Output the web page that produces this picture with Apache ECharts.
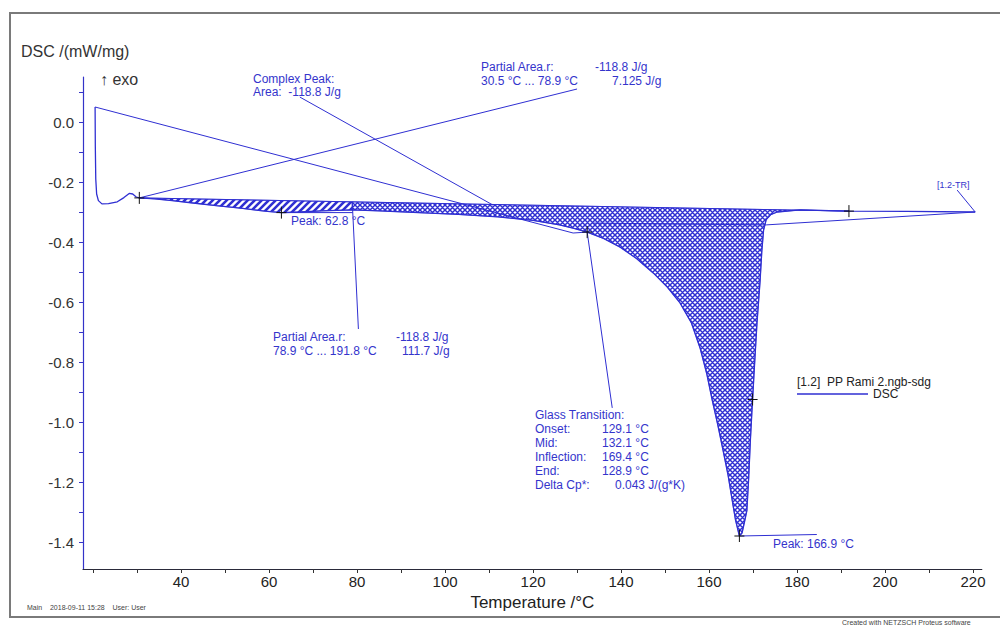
<!DOCTYPE html>
<html><head><meta charset="utf-8">
<script src="https://cdn.jsdelivr.net/npm/echarts@6/dist/echarts.min.js"></script>
<style>html,body{margin:0;padding:0;background:#fff}#c{width:1000px;height:626px}</style>
</head><body><div id="c"></div>
<script>
// ---- data (°C, mW/mg) ----
const curveT = [20.45,20.5,20.6,20.8,21.2,22.0,23.5,25.5,27.0,28.2,29.0,29.8,30.5,34,38,42.7,48,54,59,62.8,67,72,78.9,85,94,103,112,120,126,129.1,132.3,136,139.8,143.5,147.3,150.5,153.4,156,158,159.5,160.7,162,163.2,164.3,165.2,166.0,166.9,167.5,168.1,168.6,169.0,169.4,169.8,170.3,170.9,171.6,172.0,172.4,173.0,174.0,175.5,180.7,191.8,205,220.5];
const curveV = [0.05,-0.08,-0.19,-0.24,-0.262,-0.273,-0.272,-0.266,-0.252,-0.238,-0.240,-0.250,-0.253,-0.256,-0.262,-0.270,-0.279,-0.288,-0.297,-0.302,-0.300,-0.296,-0.293,-0.296,-0.302,-0.308,-0.316,-0.328,-0.343,-0.354,-0.367,-0.388,-0.417,-0.455,-0.503,-0.550,-0.603,-0.670,-0.755,-0.840,-0.925,-1.010,-1.095,-1.175,-1.255,-1.325,-1.380,-1.370,-1.330,-1.295,-1.190,-1.060,-0.950,-0.820,-0.670,-0.530,-0.430,-0.360,-0.325,-0.309,-0.300,-0.293,-0.297,-0.298,-0.300];
const baselineT = [30.5, 191.8];
const baselineV = [-0.253, -0.297];
const startLineT = [20.45, 129.1, 132.3];
const startLineV = [0.05, -0.37, -0.367];
const complexBaseT = [133.6, 173.0, 220.5];
const complexBaseV = [-0.337, -0.343, -0.300];
const splitT = [30.5, 78.9, 191.8];
const markerT = [30.5, 62.8, 132.3, 169.9, 166.9, 191.8];
const markerV = [-0.253, -0.302, -0.367, -0.925, -1.380, -0.297];
// leader lines: [T1, V1, T2, V2]
const leaders = [
  [30.5, -0.253, 130.0, 0.110],
  [67.0, 0.083, 110.9, -0.277],
  [78.9, -0.266, 80.3, -0.690],
  [132.3, -0.367, 138.0, -0.953],
  [62.8, -0.302, 79.0, -0.302],
  [166.9, -1.380, 184.5, -1.375],
  [220.5, -0.300, 216.4, -0.227]
];
const xTickValues = [20,30,40,50,60,70,80,90,100,110,120,130,140,150,160,170,180,190,200,210,220];
const xLabelValues = [40,60,80,100,120,140,160,180,200,220];
const yTickValues = [0.1,0.0,-0.1,-0.2,-0.3,-0.4,-0.5,-0.6,-0.7,-0.8,-0.9,-1.0,-1.1,-1.2,-1.3,-1.4];
const yLabelValues = [0.0,-0.2,-0.4,-0.6,-0.8,-1.0,-1.2,-1.4];

// ---- helpers ----
const BLUE = '#2f2fd2';
const TXT = '#3434cc';
function baseAt(t){ const f=(t-baselineT[0])/(baselineT[1]-baselineT[0]); return baselineV[0]+f*(baselineV[1]-baselineV[0]); }
function pairs(a,b){ return a.map((t,i)=>[t,b[i]]); }
function makePattern(size, both, lw){
  const c=document.createElement('canvas'); c.width=size; c.height=size;
  const g=c.getContext('2d'); g.strokeStyle=BLUE; g.lineWidth=lw;
  g.beginPath();
  g.moveTo(-1,size+1); g.lineTo(size+1,-1);
  g.moveTo(-1,1); g.lineTo(1,-1);
  g.moveTo(size-1,size+1); g.lineTo(size+1,size-1);
  if(both){
    g.moveTo(-1,-1); g.lineTo(size+1,size+1);
    g.moveTo(size-1,-1); g.lineTo(size+1,1);
    g.moveTo(-1,size-1); g.lineTo(1,size+1);
  }
  g.stroke();
  return {image:c, repeat:'repeat'};
}
const diagPat = makePattern(7,false,2.6);
const crossPat = makePattern(5,true,1.45);

function fillSeries(t0,t1,pat){
  return {type:'custom', silent:true, z:1, data:[[t0,baseAt(t0)]], encode:{x:0,y:1},
    renderItem:(p,api)=>{
      const pts=[];
      for(let i=0;i<curveT.length;i++){ if(curveT[i]>=t0-1e-9 && curveT[i]<=t1+1e-9) pts.push(api.coord([curveT[i],curveV[i]])); }
      pts.push(api.coord([t1,baseAt(t1)])); pts.push(api.coord([t0,baseAt(t0)]));
      return {type:'polygon', shape:{points:pts}, style:{fill:pat, stroke:BLUE, lineWidth:0.6}};
    }};
}
function lineSeries(data,w,z){ return {type:'line', data, showSymbol:false, symbol:'none', silent:true, z:z||3, lineStyle:{color:BLUE,width:w}, animation:false}; }

const chart = echarts.init(document.getElementById('c'), null, {renderer:'svg'});
const F = '"Liberation Sans", Arial, sans-serif';
function txt(x,y,s,size,color){ return {type:'text', x, y, silent:true, style:{text:s, font:size+'px '+F, fill:color||TXT, verticalAlign:'top', textVerticalAlign:'top'}}; }

chart.setOption({
  animation:false,
  backgroundColor:'#fff',
  grid:{left:83, right:18.2, top:77, bottom:57, containLabel:false},
  xAxis:{type:'value', min:17.7, max:222, position:'bottom',
    axisLine:{show:true, onZero:false, lineStyle:{color:'#2a2a3a', width:1.2}},
    axisTick:{show:true, customValues:xTickValues, length:4, lineStyle:{color:'#333'}},
    axisLabel:{customValues:xLabelValues, fontSize:15, color:'#222', fontFamily:F, margin:5},
    splitLine:{show:false},
    name:'Temperature /°C', nameLocation:'middle', nameGap:21, nameTextStyle:{fontSize:17, color:'#222', fontFamily:F}},
  yAxis:{type:'value', min:-1.49, max:0.15, position:'left',
    axisLine:{show:true, onZero:false, lineStyle:{color:'#3333c8', width:1.2}},
    axisTick:{show:true, customValues:yTickValues, length:4, lineStyle:{color:'#3333c8'}},
    axisLabel:{customValues:yLabelValues, fontSize:15, color:'#333', fontFamily:F, margin:9, formatter:v=>Number(v).toFixed(1)},
    splitLine:{show:false}},
  series:[
    fillSeries(splitT[0],splitT[1],diagPat),
    fillSeries(splitT[1],splitT[2],crossPat),
    lineSeries(pairs(curveT,curveV),1.3,5),
    lineSeries(pairs(baselineT,baselineV),1,4),
    lineSeries(pairs(startLineT,startLineV),1,4),
    lineSeries(pairs(complexBaseT,complexBaseV),1,4),
    {type:'custom', silent:true, z:4, data:leaders, encode:{x:[0,2],y:[1,3]},
      renderItem:(p,api)=>{ const a=api.coord([api.value(0),api.value(1)]), b=api.coord([api.value(2),api.value(3)]);
        return {type:'line', shape:{x1:a[0],y1:a[1],x2:b[0],y2:b[1]}, style:{stroke:BLUE,lineWidth:1}}; }},
    {type:'custom', silent:true, z:6, data:pairs(markerT,markerV), encode:{x:0,y:1},
      renderItem:(p,api)=>{ const c=api.coord([api.value(0),api.value(1)]);
        return {type:'group', children:[
          {type:'line', shape:{x1:c[0]-5,y1:c[1],x2:c[0]+5,y2:c[1]}, style:{stroke:'#111',lineWidth:1}},
          {type:'line', shape:{x1:c[0],y1:c[1]-6,x2:c[0],y2:c[1]+6}, style:{stroke:'#111',lineWidth:1}}]}; }}
  ],
  graphic:[
    {type:'rect', silent:true, shape:{x:10,y:13,width:1000,height:604}, style:{fill:'none', stroke:'#7a7a7a', lineWidth:2}},
    txt(21,43,'DSC /(mW/mg)',16,'#333'),
    txt(100,71,'↑ exo',16,'#333'),
    txt(253,73,'Complex Peak:',12),
    txt(253,86,'Area:  -118.8 J/g',12),
    txt(481,61,'Partial Area.r:',12), txt(595,61,'-118.8 J/g',12),
    txt(481,75,'30.5 °C ... 78.9 °C',12), txt(612,75,'7.125 J/g',12),
    txt(291,215,'Peak: 62.8 °C',12),
    txt(273,331,'Partial Area.r:',12), txt(396,331,'-118.8 J/g',12),
    txt(273,345,'78.9 °C ... 191.8 °C',12), txt(402,345,'111.7 J/g',12),
    txt(535,409,'Glass Transition:',12),
    txt(535,423,'Onset:',12), txt(602,423,'129.1 °C',12),
    txt(535,437,'Mid:',12), txt(602,437,'132.1 °C',12),
    txt(535,451,'Inflection:',12), txt(602,451,'169.4 °C',12),
    txt(535,465,'End:',12), txt(602,465,'128.9 °C',12),
    txt(535,479,'Delta Cp*:',12), txt(615,479,'0.043 J/(g*K)',12),
    txt(773,538,'Peak: 166.9 °C',12),
    txt(937,180,'[1.2-TR]',9),
    txt(797,376,'[1.2]  PP Rami 2.ngb-sdg',12,'#222'),
    {type:'line', silent:true, shape:{x1:797,y1:394,x2:868,y2:394}, style:{stroke:BLUE,lineWidth:1.3}},
    txt(873,388,'DSC',12,'#222'),
    txt(27,604,'Main    2018-09-11 15:28    User: User',7,'#444'),
    txt(842,619,'Created with NETZSCH Proteus software',7,'#444')
  ]
});
</script></body></html>
